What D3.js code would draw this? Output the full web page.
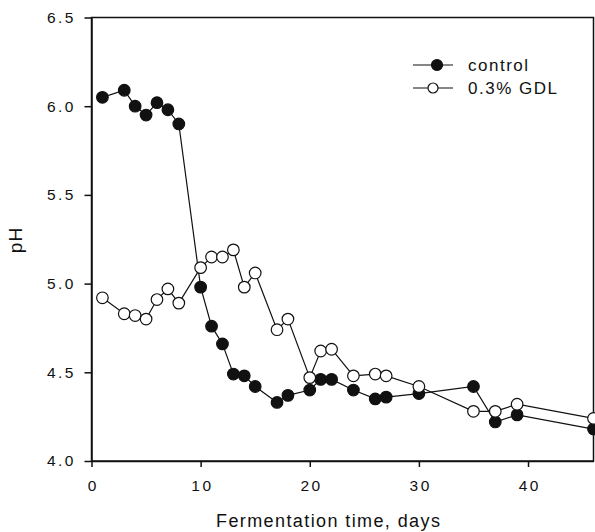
<!DOCTYPE html>
<html lang="en">
<head>
    <meta charset="utf-8" />
    <title>pH during fermentation</title>
    <script src="https://d3js.org/d3.v7.min.js"></script>
    <style>
        body { margin: 0; background: #fff; }
        text { font-family: "Liberation Sans", Arial, sans-serif; fill: #111; }
    </style>
</head>
<body>
    <svg id="chart"></svg>
    <script>
        // data
        var days = [1, 3, 4, 5, 6, 7, 8, 10, 11, 12, 13, 14, 15, 17, 18, 20, 21, 22, 24, 26, 27, 30, 35, 37, 39, 46];
        var controlPH = [6.05, 6.09, 6.00, 5.95, 6.02, 5.98, 5.90, 4.98, 4.76, 4.66, 4.49, 4.48, 4.42, 4.33, 4.37,
                         4.40, 4.46, 4.46, 4.40, 4.35, 4.36, 4.38, 4.42, 4.22, 4.26, 4.18];
        var gdlPH = [4.92, 4.83, 4.82, 4.80, 4.91, 4.97, 4.89, 5.09, 5.15, 5.15, 5.19, 4.98, 5.06, 4.74, 4.80,
                     4.47, 4.62, 4.63, 4.48, 4.49, 4.48, 4.42, 4.28, 4.28, 4.32, 4.24];
        var xTicks = [0, 10, 20, 30, 40];
        var yTicks = [4.0, 4.5, 5.0, 5.5, 6.0, 6.5];
        var seriesNames = ["control", "0.3% GDL"];

        var width = 595, height = 532;
        var margin = { top: 17.5, right: 1.5, bottom: 71, left: 91.5 };

        var svg = d3.select("#chart")
            .attr("width", width)
            .attr("height", height);

        var x = d3.scaleLinear().domain([0, 46]).range([margin.left, width - margin.right]);
        var y = d3.scaleLinear().domain([4.0, 6.5]).range([height - margin.bottom, margin.top]);

        // axes
        svg.append("g")
            .attr("transform", "translate(0," + (height - margin.bottom) + ")")
            .call(d3.axisBottom(x).tickValues(xTicks).tickSize(6).tickSizeOuter(0).tickPadding(13).tickFormat(d3.format("d")))
            .call(g => g.selectAll("text").style("font-size", "15.5px").style("letter-spacing", "2.5px")
                .attr("dx", "1.25px").attr("fill", "#111"));

        svg.append("g")
            .attr("transform", "translate(" + margin.left + ",0)")
            .call(d3.axisLeft(y).tickValues(yTicks).tickSize(7).tickSizeOuter(0).tickPadding(8.5).tickFormat(d3.format(".1f")))
            .call(g => g.selectAll("text").style("font-size", "15.5px").style("letter-spacing", "2.5px").attr("fill", "#111"));

        svg.selectAll(".domain, .tick line").attr("stroke", "#111").attr("stroke-width", 1.5);

        // frame
        svg.append("rect")
            .attr("x", x(0)).attr("y", y(6.5))
            .attr("width", x(46) - x(0)).attr("height", y(4.0) - y(6.5))
            .attr("fill", "none").attr("stroke", "#111").attr("stroke-width", 1.5);

        // axis titles
        svg.append("text")
            .attr("x", 216).attr("y", 527)
            .style("font-size", "18px").style("letter-spacing", "1.4px")
            .text("Fermentation time, days");

        svg.append("text")
            .attr("transform", "translate(22,240) rotate(-90)")
            .attr("text-anchor", "middle")
            .style("font-size", "19px").style("letter-spacing", "1px")
            .text("pH");

        var line = d3.line().x(d => x(d[0])).y(d => y(d[1]));
        var series = [
            { name: seriesNames[0], values: days.map((d, i) => [d, controlPH[i]]), fill: "#111" },
            { name: seriesNames[1], values: days.map((d, i) => [d, gdlPH[i]]), fill: "#fff" }
        ];

        series.forEach(function (s) {
            var g = svg.append("g");
            g.append("path")
                .attr("d", line(s.values))
                .attr("fill", "none").attr("stroke", "#111").attr("stroke-width", 1.2);
            g.selectAll("circle")
                .data(s.values)
                .enter()
                .append("circle")
                .attr("cx", d => x(d[0]))
                .attr("cy", d => y(d[1]))
                .attr("r", 5.8)
                .attr("fill", s.fill)
                .attr("stroke", "#111").attr("stroke-width", 1.2);
        });

        // legend
        var legend = svg.append("g").attr("transform", "translate(413,65)");
        series.forEach(function (s, i) {
            var row = legend.append("g").attr("transform", "translate(0," + (i * 23) + ")");
            row.append("line").attr("x1", 0).attr("x2", 40).attr("y1", 0).attr("y2", 0)
                .attr("stroke", "#111").attr("stroke-width", 1.2);
            row.append("circle").attr("cx", i == 0 ? 24 : 20).attr("cy", 0).attr("r", i == 0 ? 5.5 : 5)
                .attr("fill", s.fill).attr("stroke", "#111").attr("stroke-width", 1.2);
            row.append("text").attr("x", 55).attr("y", 6)
                .style("font-size", "17px").style("letter-spacing", "1.5px")
                .text(s.name);
        });
    </script>
</body>
</html>
